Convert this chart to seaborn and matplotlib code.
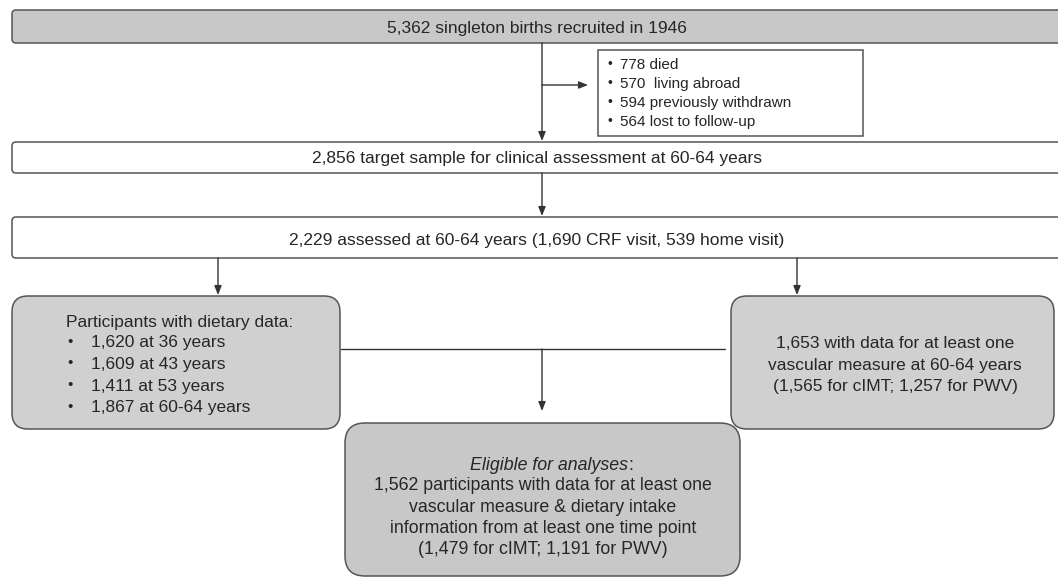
import matplotlib
matplotlib.use("Agg")
import matplotlib.pyplot as plt
import seaborn as sns
from matplotlib.patches import FancyBboxPatch

sns.set_theme(style="white")
plt.rcParams['font.family'] = ['Liberation Sans', 'DejaVu Sans']

# counts shown in the flow chart
recruited = 5362
excluded_counts = [778, 570, 594, 564]
excluded_labels = ["died", " living abroad", "previously withdrawn", "lost to follow-up"]
target = 2856
assessed = 2229
assessed_crf, assessed_home = 1690, 539
diet_counts = [1620, 1609, 1411, 1867]
diet_ages = ["36 years", "43 years", "53 years", "60-64 years"]
vascular = 1653
vascular_cimt, vascular_pwv = 1565, 1257
eligible = 1562
eligible_cimt, eligible_pwv = 1479, 1191

EDGE = "#555555"
TXT = "#262626"
FS = 12.5
DY = 2  # caps-centre offset for va="center"

fig = plt.figure(figsize=(10.58, 5.77), dpi=100)
ax = fig.add_axes([0, 0, 1, 1])
ax.set_xlim(0, 1058)
ax.set_ylim(577, 0)
ax.axis("off")


def box(x0, y0, x1, y1, fc, r=4, lw=1.1):
    p = FancyBboxPatch((x0, y0), x1 - x0, y1 - y0,
                       boxstyle=f"round,pad=0,rounding_size={r}",
                       fc=fc, ec=EDGE, lw=lw, zorder=2)
    ax.add_patch(p)


def arrow(x0, y0, x1, y1):
    ax.annotate("", xy=(x1, y1), xytext=(x0, y0),
                arrowprops=dict(arrowstyle="-|>,head_length=0.45,head_width=0.18",
                                color="#333333", lw=1.0, shrinkA=0, shrinkB=0),
                zorder=3)


def line(xs, ys):
    ax.plot(xs, ys, color="#333333", lw=1.0, zorder=1)


def txt(x, y, s, ha="center", fs=FS, **kw):
    ax.text(x, y + DY, s, ha=ha, va="center", fontsize=fs, color=TXT, **kw)


def fmt(n):
    return f"{n:,}"


# top box
box(12, 10, 1066, 43, "#c8c8c8")
txt(537, 27, f"{fmt(recruited)} singleton births recruited in 1946")

# down to target box plus exclusion branch
arrow(542, 43, 542, 141)
arrow(542, 85, 588, 85)
ax.add_patch(plt.Rectangle((598, 50), 265, 86, fc="white", ec=EDGE, lw=1.1, zorder=2))
for i, (n, lab) in enumerate(zip(excluded_counts, excluded_labels)):
    y = 63 + i * 19
    txt(607, y - 1, "\u2022", ha="left", fs=10)
    txt(620, y, f"{n} {lab}", ha="left", fs=11)

# target box
box(12, 142, 1066, 173, "white")
txt(537, 157, f"{fmt(target)} target sample for clinical assessment at 60-64 years")

arrow(542, 173, 542, 216)

# assessed box
box(12, 217, 1066, 258, "white")
txt(537, 238, f"{fmt(assessed)} assessed at 60-64 years "
              f"({fmt(assessed_crf)} CRF visit, {assessed_home} home visit)")

arrow(218, 258, 218, 295)
arrow(797, 258, 797, 295)

# dietary box
box(12, 296, 340, 429, "#d0d0d0", r=16)
txt(66, 320, "Participants with dietary data:", ha="left")
for i, (n, age) in enumerate(zip(diet_counts, diet_ages)):
    y = 341 + i * 21.5
    txt(67, y - 1, "\u2022", ha="left", fs=11)
    txt(91, y, f"{fmt(n)} at {age}", ha="left")

# vascular box
box(731, 296, 1054, 429, "#d0d0d0", r=16)
vasc_lines = [f"{fmt(vascular)} with data for at least one",
              "vascular measure at 60-64 years",
              f"({fmt(vascular_cimt)} for cIMT; {fmt(vascular_pwv)} for PWV)"]
for i, s in enumerate(vasc_lines):
    txt(895, 342 + i * 21.5, s)

# join to eligible box
line([341, 725], [349, 349])
arrow(542, 349, 542, 411)

# eligible box
box(345, 423, 740, 576, "#c8c8c8", r=20)
txt(628, 463, "Eligible for analyses", ha="right", fs=12.8, style="italic")
txt(628, 463, ":", ha="left", fs=12.8)
elig_lines = [f"{fmt(eligible)} participants with data for at least one",
              "vascular measure & dietary intake",
              "information from at least one time point",
              f"({fmt(eligible_cimt)} for cIMT; {fmt(eligible_pwv)} for PWV)"]
for i, s in enumerate(elig_lines):
    txt(543, 484 + i * 21.3, s, fs=12.8)

fig.savefig("out.png", dpi=100)
